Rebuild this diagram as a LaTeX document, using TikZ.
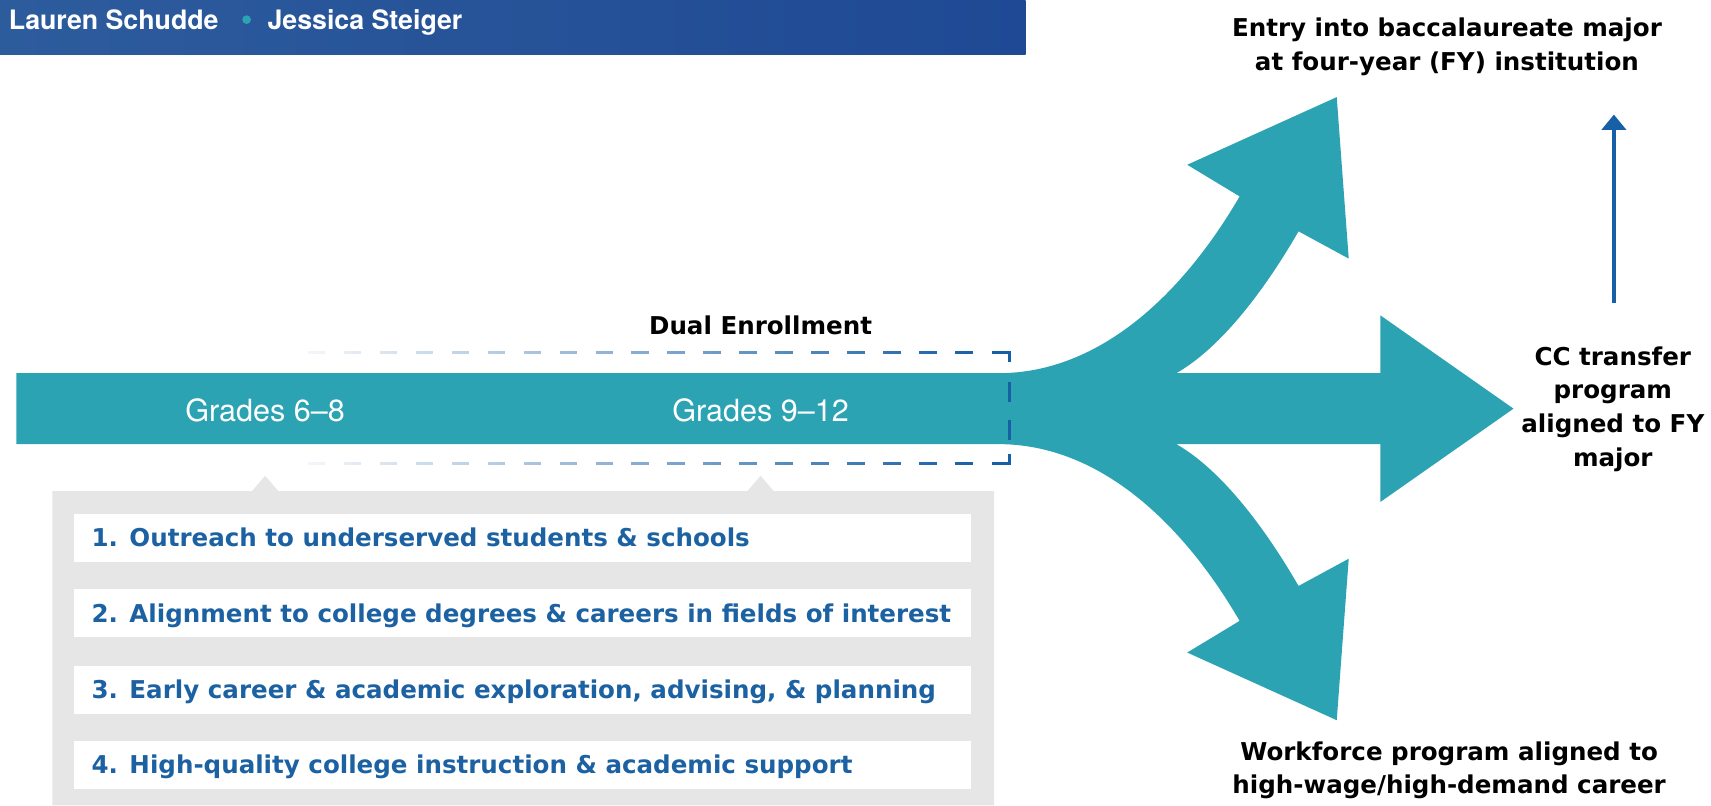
\documentclass[tikz,border=0pt]{standalone}
\usepackage{fontspec}
\setmainfont{TeX Gyre Heros}
\newfontfamily\labelfont{DejaVu Sans}
\usepackage{tikz}
\usetikzlibrary{arrows.meta,fadings}

\definecolor{flowteal}{RGB}{44,163,179}
\definecolor{darkblue}{RGB}{24,96,166}
\definecolor{itemblue}{RGB}{28,98,163}
\definecolor{panelgray}{RGB}{230,230,230}
\definecolor{bannerleft}{RGB}{45,92,157}
\definecolor{bannerright}{RGB}{31,73,148}

\tikzfading[name=fade in east, left color=transparent!95, right color=transparent!0]

\begin{document}
\begin{tikzpicture}[x=1pt, y=-1pt,
  outcome/.style={font=\labelfont\bfseries\fontsize{22.5}{31}\selectfont, align=center},
  grade/.style={font=\fontsize{28}{32}\selectfont, text=white, anchor=base},
  itembox/.style={fill=white, minimum width=822pt, minimum height=44pt, inner sep=0pt},
  itemtext/.style={font=\labelfont\bfseries\fontsize{22.5}{27}\selectfont, text=itemblue, anchor=west, text height=16.5pt, text depth=0pt, inner sep=0pt}]
\useasboundingbox (0,0) rectangle (1568,738);

% header
\shade[left color=bannerleft, right color=bannerright] (0,0) rectangle (940,50);
\node[anchor=base west, inner sep=0pt, text=white, font=\bfseries\fontsize{24.5}{28}\selectfont] (author1) at (8,27) {Lauren Schudde};
\node[circle, fill=flowteal, minimum size=8pt, inner sep=0pt] (authordot) at (226,18) {};
\node[anchor=base west, inner sep=0pt, text=white, font=\bfseries\fontsize{24.5}{28}\selectfont] (author2) at (245,27) {Jessica Steiger};

% grey panel with the two pointers
\fill[panelgray] (48,450) -- (231,450) -- (243,436) -- (255,450) -- (685,450) -- (697,436) -- (709,450) -- (911,450) -- (911,738) -- (48,738) -- cycle;
\node[itembox] (box1) at (479,493) {};
\node[itembox] (box2) at (479,562) {};
\node[itembox] (box3) at (479,632) {};
\node[itembox] (box4) at (479,701) {};
\node[itemtext] (item1) at ([xshift=16pt]box1.west) {1. Outreach to underserved students \& schools};
\node[itemtext] (item2) at ([xshift=16pt]box2.west) {2. Alignment to college degrees \& careers in fields of interest};
\node[itemtext] (item3) at ([xshift=16pt]box3.west) {3. Early career \& academic exploration, advising, \& planning};
\node[itemtext] (item4) at ([xshift=16pt]box4.west) {4. High-quality college instruction \& academic support};

% the pathway arrow and its three branches
\fill[flowteal] (15,342) -- (915,342)
  .. controls (1010,342) and (1086,266) .. (1136,180)
  -- (1088,151) -- (1225,89) -- (1236,237) -- (1190,212)
  .. controls (1160,264) and (1120,318) .. (1078,342)
  -- (1265,342) -- (1265,289) -- (1387,374.5) -- (1265,460) -- (1265,407)
  -- (1078,407)
  .. controls (1120,431) and (1160,485) .. (1190,537)
  -- (1236,512) -- (1225,660) -- (1088,598) -- (1136,569)
  .. controls (1086,483) and (1010,407) .. (915,407)
  -- (15,407) -- cycle;
\node[grade] (grades68) at (243,386) {Grades 6--8};
\node[grade] (grades912) at (697,386) {Grades 9--12};

% dual enrollment box
\draw[darkblue, line width=3pt, dash pattern=on 16pt off 17pt, path fading=fade in east] (282,323) -- (892,323) (282,425) -- (892,425);
\draw[darkblue, line width=3pt, line join=miter, dash pattern=on 25pt off 18pt on 18pt off 17pt on 18pt off 13pt on 25pt off 10pt] (909,323) -- (925,323) -- (925,425) -- (909,425);
\node[outcome, anchor=base] (dual) at (697,307) {Dual Enrollment};

% outcomes
\node[outcome] (entry) at (1326,43) {Entry into baccalaureate major\\at four-year (FY) institution};
\node[outcome] (cctransfer) at (1478,375) {CC transfer\\program\\aligned to FY\\major};
\node[outcome] (workforce) at (1328,706) {Workforce program aligned to\\high-wage/high-demand career};
\coordinate (transferfoot) at (1479,278);
\coordinate (transfertip) at (1479,105);
\draw[darkblue, line width=3.5pt, -{Triangle[width=22pt, length=14pt]}] (transferfoot) -- (transfertip);
\end{tikzpicture}
\end{document}
